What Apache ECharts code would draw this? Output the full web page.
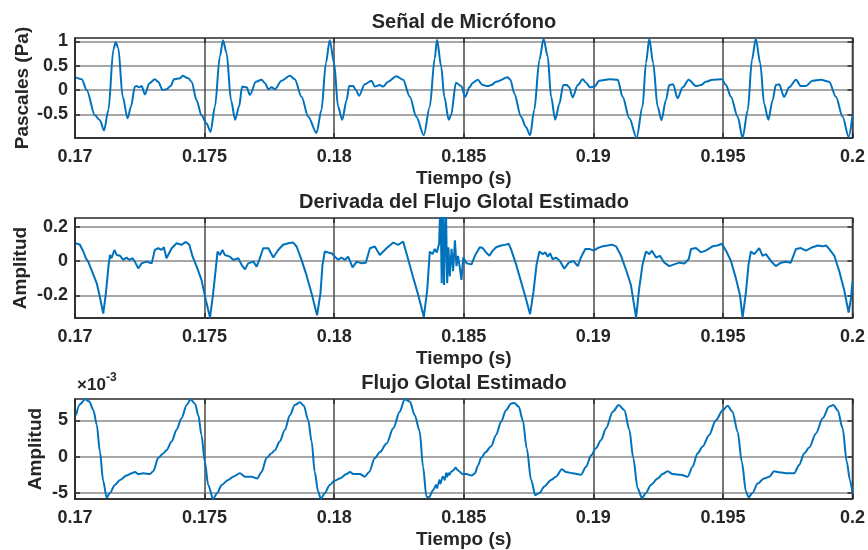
<!DOCTYPE html>
<html>
<head>
<meta charset="utf-8">
<title>Flujo Glotal</title>
<script src="https://cdn.jsdelivr.net/npm/echarts@6/dist/echarts.min.js"></script>
<style>
html, body { margin: 0; padding: 0; background: #fff; }
#chart { width: 868px; height: 550px; }
</style>
</head>
<body>
<div id="chart"></div>
<script>
// valores, tiempo en segundos
const micTime = [
  0.17004,0.17026,0.17045,0.17077,0.17096,0.17112,0.17129,0.17148,0.17157,0.17167,
  0.17184,0.17203,0.17216,0.17231,0.17238,0.17248,0.17257,0.17270,0.17287,0.17308,
  0.17321,0.17338,0.17353,0.17369,0.17382,0.17405,0.17415,0.17437,0.17450,0.17469,
  0.17488,0.17508,0.17523,0.17540,0.17559,0.17571,0.17585,0.17602,0.17618,0.17633,
  0.17645,0.17662,0.17675,0.17698,0.17720,0.17733,0.17746,0.17759,0.17771,0.17797,
  0.17829,0.17848,0.17874,0.17900,0.17932,0.17951,0.17968,0.17983,0.18000,0.18015,
  0.18031,0.18048,0.18058,0.18073,0.18084,0.18096,0.18118,0.18144,0.18157,0.18176,
  0.18189,0.18208,0.18240,0.18266,0.18292,0.18317,0.18346,0.18369,0.18388,0.18397,
  0.18413,0.18425,0.18442,0.18451,0.18470,0.18490,0.18506,0.18522,0.18535,0.18554,
  0.18573,0.18593,0.18606,0.18625,0.18670,0.18680,0.18695,0.18721,0.18740,0.18756,
  0.18772,0.18792,0.18808,0.18824,0.18837,0.18853,0.18869,0.18884,0.18897,0.18907,
  0.18920,0.18940,0.18959,0.18972,0.18987,0.19004,0.19023,0.19062,0.19094,0.19113,
  0.19139,0.19167,0.19190,0.19203,0.19216,0.19231,0.19248,0.19263,0.19280,0.19293,
  0.19308,0.19325,0.19345,0.19368,0.19396,0.19415,0.19434,0.19460,0.19496,0.19512,
  0.19531,0.19557,0.19576,0.19596,0.19612,0.19627,0.19644,0.19659,0.19675,0.19692,
  0.19704,0.19717,0.19736,0.19756,0.19782,0.19801,0.19820,0.19846,0.19878,0.19910,
  0.19936,0.19962,0.19985,0.20000
];
const micValues = [
  0.26,0.22,0.0,-0.52,-0.62,-0.83,-0.41,0.83,0.98,0.86,
  -0.14,-0.58,-0.34,0.07,0.08,0.055,0.08,-0.09,0.14,0.22,
  0.17,0.0,0.015,0.08,0.22,0.24,0.29,0.24,0.17,-0.21,
  -0.52,-0.69,-0.86,-0.34,0.69,1.02,0.76,-0.21,-0.61,-0.34,
  0.07,0.055,-0.1,0.17,0.21,0.14,0.015,0.055,0.015,0.19,
  0.29,0.22,-0.14,-0.55,-0.88,-0.41,0.55,1.02,0.55,-0.34,
  -0.61,-0.21,0.08,0.08,0.0,-0.12,0.12,0.19,0.07,0.10,
  0.07,0.17,0.28,0.21,-0.14,-0.55,-0.93,-0.34,0.65,1.03,
  0.48,-0.14,-0.61,-0.52,0.15,0.08,-0.14,0.055,0.15,0.21,
  0.10,0.08,0.10,0.17,0.26,0.21,-0.07,-0.55,-0.76,-0.93,
  -0.41,0.62,1.05,0.69,-0.14,-0.61,-0.28,0.10,0.10,0.055,
  -0.15,0.10,0.22,0.15,0.055,0.07,0.19,0.22,0.21,-0.14,
  -0.58,-0.98,-0.34,0.55,1.05,0.55,-0.34,-0.62,-0.21,0.10,
  0.12,-0.17,0.055,0.21,0.08,0.10,0.17,0.21,0.22,0.10,
  -0.14,-0.55,-0.98,-0.41,0.62,1.05,0.55,-0.28,-0.61,-0.21,
  0.10,0.12,-0.14,0.055,0.21,0.08,0.08,0.19,0.21,0.17,
  -0.14,-0.55,-0.96,-0.52
];

// derivada del flujo: [tiempo, amplitud]
const dflowData = [
  [0.17004,0.103],[0.17019,0.094],[0.17032,0.055],[0.17042,0.016],[0.17051,-0.004],[0.17064,-0.053],
  [0.17084,-0.13],[0.17096,-0.21],[0.17109,-0.306],[0.17119,-0.19],[0.17129,-0.033],[0.17135,0.035],
  [0.17141,0.016],[0.17152,0.064],[0.17161,0.035],[0.17174,0.03],[0.17186,0.006],[0.17199,0.02],
  [0.17209,0.006],[0.17222,0.016],[0.17231,-0.004],[0.17244,-0.043],[0.17257,-0.014],[0.17276,-0.004],
  [0.17296,-0.014],[0.17308,0.064],[0.17321,0.074],[0.17334,0.064],[0.17343,0.08],[0.17353,0.016],
  [0.17373,0.074],[0.17392,0.103],[0.17411,0.094],[0.17428,0.111],[0.17441,0.094],[0.17454,0.025],
  [0.17469,-0.03],[0.17488,-0.11],[0.17505,-0.228],[0.17521,-0.33],[0.17533,-0.19],[0.17544,-0.033],
  [0.17550,0.055],[0.17559,0.035],[0.17569,0.064],[0.17578,0.035],[0.17598,0.025],[0.17611,0.006],
  [0.17630,0.016],[0.17643,-0.023],[0.17656,-0.049],[0.17668,-0.014],[0.17688,-0.004],[0.17701,-0.033],
  [0.17711,0.006],[0.17726,0.074],[0.17746,0.074],[0.17765,0.02],[0.17784,0.064],[0.17803,0.094],
  [0.17823,0.103],[0.17842,0.107],[0.17855,0.084],[0.17874,0.006],[0.17891,-0.072],[0.17913,-0.19],
  [0.17934,-0.316],[0.17947,-0.19],[0.17955,-0.023],[0.17964,0.055],[0.17977,0.049],[0.17990,0.045],
  [0.18003,0.025],[0.18015,0.006],[0.18028,0.02],[0.18041,0.006],[0.18054,0.025],[0.18071,-0.037],
  [0.18087,-0.004],[0.18106,-0.014],[0.18122,-0.01],[0.18138,0.074],[0.18157,0.084],[0.18176,0.035],
  [0.18202,0.074],[0.18228,0.107],[0.18247,0.094],[0.18266,0.113],[0.18281,0.035],[0.18304,-0.092],
  [0.18323,-0.19],[0.18346,-0.326],[0.18359,-0.17],[0.18369,0.054],[0.18380,0.04],[0.18388,0.07],
  [0.18396,0.05],[0.18405,0.10],[0.18410,0.35],[0.18415,-0.13],[0.18420,0.35],[0.18424,-0.14],
  [0.18431,0.35],[0.18436,-0.13],[0.18441,0.08],[0.18446,-0.09],[0.18453,0.07],[0.18459,-0.06],
  [0.18466,0.12],[0.18472,-0.03],[0.18478,0.03],[0.18485,-0.04],[0.18491,-0.11],[0.18498,0.02],
  [0.18511,-0.014],[0.18530,-0.02],[0.18543,0.03],[0.18562,0.08],[0.18573,0.075],[0.18586,0.05],
  [0.18599,0.03],[0.18612,0.06],[0.18625,0.08],[0.18644,0.09],[0.18663,0.095],[0.18673,0.10],
  [0.18682,0.07],[0.18702,-0.02],[0.18721,-0.12],[0.18740,-0.22],[0.18756,-0.31],[0.18769,-0.18],
  [0.18781,-0.02],[0.18792,0.055],[0.18805,0.04],[0.18815,0.05],[0.18824,0.025],[0.18833,0.045],
  [0.18843,0.01],[0.18856,0.02],[0.18871,0.0],[0.18888,-0.045],[0.18905,-0.01],[0.18923,0.0],
  [0.18940,-0.03],[0.18952,0.02],[0.18969,0.07],[0.18985,0.07],[0.19001,0.06],[0.19017,0.075],
  [0.19036,0.085],[0.19055,0.09],[0.19072,0.095],[0.19088,0.085],[0.19107,0.03],[0.19126,-0.05],
  [0.19145,-0.14],[0.19165,-0.33],[0.19177,-0.16],[0.19190,-0.02],[0.19203,0.055],[0.19216,0.04],
  [0.19226,0.06],[0.19242,0.02],[0.19257,0.03],[0.19274,-0.01],[0.19293,-0.03],[0.19312,-0.02],
  [0.19332,-0.01],[0.19351,-0.015],[0.19368,0.01],[0.19377,0.07],[0.19396,0.075],[0.19415,0.05],
  [0.19434,0.06],[0.19460,0.085],[0.19479,0.09],[0.19496,0.10],[0.19512,0.06],[0.19531,0.0],
  [0.19550,-0.10],[0.19566,-0.20],[0.19576,-0.33],[0.19589,-0.18],[0.19599,-0.02],[0.19608,0.055],
  [0.19621,0.04],[0.19640,0.075],[0.19653,0.03],[0.19666,0.04],[0.19685,0.0],[0.19704,-0.03],
  [0.19724,-0.01],[0.19743,-0.005],[0.19762,-0.01],[0.19782,0.07],[0.19801,0.075],[0.19820,0.06],
  [0.19846,0.08],[0.19866,0.09],[0.19885,0.085],[0.19898,0.09],[0.19910,0.07],[0.19930,0.03],
  [0.19949,-0.06],[0.19968,-0.17],[0.19985,-0.30],[0.19994,-0.22],[0.20000,-0.12]
];

// flujo glotal: [tiempo, amplitud x1e-3]
const flowData = [
  [0.17004,5.7],[0.17019,7.2],[0.17039,7.9],[0.17055,7.6],[0.17071,6.4],[0.17084,4.4],[0.17096,0.7],
  [0.17109,-3.4],[0.17122,-5.6],[0.17135,-5.0],[0.17154,-3.9],[0.17174,-3.2],[0.17199,-2.6],[0.17219,-2.3],
  [0.17231,-2.1],[0.17244,-2.4],[0.17264,-2.3],[0.17289,-2.4],[0.17302,-2.0],[0.17321,-0.2],[0.17341,0.46],
  [0.17353,0.9],[0.17373,2.1],[0.17392,3.7],[0.17411,5.3],[0.17431,7.1],[0.17446,7.9],[0.17463,7.3],
  [0.17476,5.7],[0.17488,3.0],[0.17501,-0.7],[0.17514,-3.9],[0.17533,-5.8],[0.17549,-5.0],[0.17566,-3.9],
  [0.17591,-3.2],[0.17611,-2.75],[0.17636,-2.3],[0.17656,-2.75],[0.17681,-2.75],[0.17703,-3.0],[0.17720,-2.1],
  [0.17739,-0.2],[0.17758,0.46],[0.17771,0.9],[0.17790,2.1],[0.17810,3.7],[0.17829,5.7],[0.17848,7.1],
  [0.17868,7.5],[0.17883,7.0],[0.17900,5.0],[0.17913,2.1],[0.17925,-2.1],[0.17938,-4.8],[0.17949,-5.8],
  [0.17964,-5.0],[0.17983,-3.9],[0.18000,-3.35],[0.18022,-3.0],[0.18048,-2.4],[0.18061,-2.1],[0.18074,-2.4],
  [0.18099,-2.4],[0.18118,-2.75],[0.18135,-2.1],[0.18157,-0.2],[0.18176,0.6],[0.18202,1.8],[0.18228,3.9],
  [0.18253,6.2],[0.18272,7.9],[0.18292,7.6],[0.18311,5.7],[0.18330,3.5],[0.18343,-1.4],[0.18356,-5.5],
  [0.18366,-5.6],[0.18382,-4.6],[0.18393,-3.9],[0.18397,-4.3],[0.18401,-3.9],[0.18406,-3.2],[0.18410,-3.7],
  [0.18419,-2.75],[0.18423,-2.9],[0.18427,-3.2],[0.18432,-2.3],[0.18436,-2.75],[0.18440,-2.3],[0.18445,-2.5],
  [0.18450,-2.1],[0.18459,-1.9],[0.18469,-1.5],[0.18475,-1.8],[0.18482,-2.0],[0.18495,-2.4],[0.18511,-2.4],
  [0.18530,-2.6],[0.18543,-2.3],[0.18555,-1.2],[0.18567,-0.2],[0.18584,0.6],[0.18605,1.4],[0.18625,3.0],
  [0.18644,4.8],[0.18663,6.4],[0.18682,7.3],[0.18695,7.4],[0.18712,6.9],[0.18728,5.0],[0.18743,1.15],
  [0.18760,-3.2],[0.18776,-5.3],[0.18792,-5.0],[0.18811,-4.1],[0.18837,-3.2],[0.18856,-2.75],[0.18879,-1.75],
  [0.18895,-2.1],[0.18920,-2.3],[0.18952,-2.5],[0.18972,-1.4],[0.18991,0.15],[0.19010,1.15],[0.19030,2.3],
  [0.19049,3.9],[0.19075,6.2],[0.19098,7.1],[0.19120,6.4],[0.19139,3.7],[0.19154,-0.2],[0.19171,-4.35],
  [0.19188,-5.7],[0.19203,-5.0],[0.19222,-3.9],[0.19248,-3.0],[0.19267,-2.4],[0.19287,-2.0],[0.19306,-2.4],
  [0.19338,-2.5],[0.19364,-2.75],[0.19383,-1.4],[0.19402,0.46],[0.19422,1.4],[0.19447,3.0],[0.19473,5.0],
  [0.19499,6.4],[0.19518,7.0],[0.19537,6.2],[0.19557,3.4],[0.19573,-0.7],[0.19589,-4.8],[0.19599,-5.6],
  [0.19614,-5.0],[0.19634,-3.7],[0.19659,-3.0],[0.19679,-2.75],[0.19698,-2.0],[0.19717,-2.15],[0.19749,-2.3],
  [0.19775,-2.3],[0.19794,-1.15],[0.19814,0.46],[0.19833,1.25],[0.19859,3.2],[0.19885,5.3],[0.19910,6.9],
  [0.19926,7.1],[0.19943,6.4],[0.19962,3.9],[0.19978,-0.7],[0.19990,-3.2],[0.20000,-5.0]
];

const timeTicks = [0.17, 0.175, 0.18, 0.185, 0.19, 0.195, 0.2];
const micTicks = [-0.5, 0, 0.5, 1];
const dflowTicks = [-0.2, 0, 0.2];
const flowTicks = [-5, 0, 5];

const titles = ['Señal de Micrófono', 'Derivada del Flujo Glotal Estimado', 'Flujo Glotal Estimado'];
const yNames = ['Pascales (Pa)', 'Amplitud', 'Amplitud'];
const xName = 'Tiempo (s)';

const FONT = '"Liberation Sans", Arial, Helvetica, sans-serif';
const TXT = '#262626';
const BLUE = '#0072BD';

const yTicks = [micTicks, dflowTicks, flowTicks];
const yLimits = [[-0.985, 1.067], [-0.332, 0.25], [-5.83, 7.94]];
const tops = [38, 218, 399];
const yNameGap = [43, 45, 30];

const chart = echarts.init(document.getElementById('chart'), null, { renderer: 'canvas' });

const grids = tops.map(t => ({
  left: 75, width: 778, top: t, height: 100,
  show: true, borderColor: '#2a2a2a', borderWidth: 1.5, backgroundColor: '#fff'
}));

const xAxes = [];
const yAxes = [];
for (let i = 0; i < 3; i++) {
  xAxes.push({
    type: 'value', gridIndex: i, min: 0.17, max: 0.2, position: 'bottom',
    name: xName, nameLocation: 'middle', nameGap: 31,
    nameTextStyle: { fontFamily: FONT, fontWeight: 'bold', fontSize: 19, color: TXT },
    axisLine: { show: true, onZero: false, lineStyle: { color: '#2a2a2a', width: 1.5 } },
    axisTick: { show: true, inside: true, length: 5, customValues: timeTicks, lineStyle: { color: '#2a2a2a', width: 1.5 } },
    axisLabel: {
      customValues: timeTicks, margin: 10,
      fontFamily: FONT, fontWeight: 'bold', fontSize: 18, color: TXT,
      formatter: v => String(+v.toFixed(3))
    },
    splitLine: { show: true, lineStyle: { color: '#4a4a4a', width: 1.5 } }
  });
  yAxes.push({
    type: 'value', gridIndex: i, min: yLimits[i][0], max: yLimits[i][1], position: 'left',
    name: yNames[i], nameLocation: 'middle', nameGap: yNameGap[i], nameMoveOverlap: false,
    nameTextStyle: { fontFamily: FONT, fontWeight: 'bold', fontSize: 19, color: TXT },
    axisLine: { show: true, onZero: false, lineStyle: { color: '#2a2a2a', width: 1.5 } },
    axisTick: { show: true, inside: true, length: 5, customValues: yTicks[i], lineStyle: { color: '#2a2a2a', width: 1.5 } },
    axisLabel: {
      customValues: yTicks[i], margin: 7,
      fontFamily: FONT, fontWeight: 'bold', fontSize: 18, color: TXT
    },
    splitLine: { show: true, lineStyle: { color: '#8a8a8a', width: 1.5 } }
  });
}
// ejes espejo (arriba / derecha) solo para las marcas interiores
for (let i = 0; i < 3; i++) {
  xAxes.push({
    type: 'value', gridIndex: i, min: 0.17, max: 0.2, position: 'top',
    axisLine: { show: false, onZero: false },
    axisTick: { show: true, inside: true, length: 5, customValues: timeTicks, lineStyle: { color: '#2a2a2a', width: 1.5 } },
    axisLabel: { show: false }, splitLine: { show: false }
  });
  yAxes.push({
    type: 'value', gridIndex: i, min: yLimits[i][0], max: yLimits[i][1], position: 'right',
    axisLine: { show: false, onZero: false },
    axisTick: { show: true, inside: true, length: 5, customValues: yTicks[i], lineStyle: { color: '#2a2a2a', width: 1.5 } },
    axisLabel: { show: false }, splitLine: { show: false }
  });
}

const lineSeries = (data, i, smooth) => ({
  type: 'line', xAxisIndex: i, yAxisIndex: i, data: data,
  showSymbol: false, smooth: smooth, smoothMonotone: 'x', clip: true,
  lineStyle: { color: BLUE, width: 2 }, z: 5
});

const graphics = titles.map((t, i) => ({
  type: 'text', x: 464, y: tops[i] - 16,
  style: { text: t, font: 'bold 20px ' + FONT, fill: TXT, align: 'center', verticalAlign: 'middle' }
}));
graphics.push(
  { type: 'text', x: 77, y: 385, style: { text: '×10', font: 'bold 17px ' + FONT, fill: TXT, align: 'left', verticalAlign: 'middle' } },
  { type: 'text', x: 106, y: 378, style: { text: '-3', font: 'bold 12px ' + FONT, fill: TXT, align: 'left', verticalAlign: 'middle' } }
);

chart.setOption({
  animation: false,
  backgroundColor: '#fff',
  grid: grids,
  xAxis: xAxes,
  yAxis: yAxes,
  graphic: graphics,
  series: [
    lineSeries(micTime.map((t, k) => [t, micValues[k]]), 0, 0.3),
    lineSeries(dflowData, 1, false),
    lineSeries(flowData, 2, 0.3)
  ]
});
</script>
</body>
</html>
